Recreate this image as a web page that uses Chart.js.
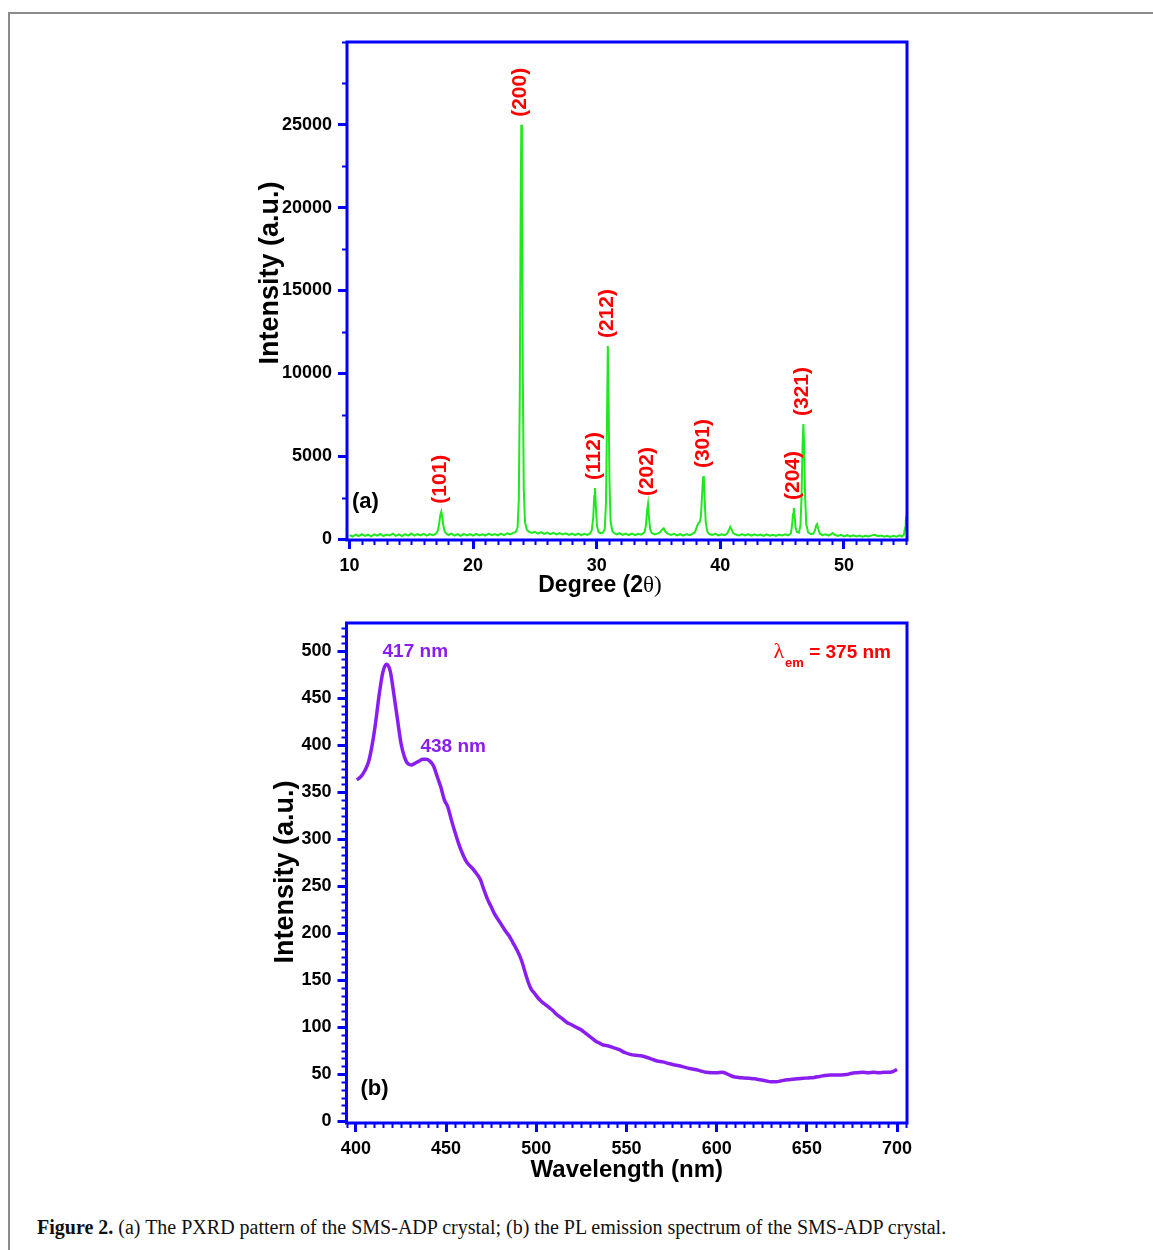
<!DOCTYPE html>
<html>
<head>
<meta charset="utf-8">
<script src="https://cdn.jsdelivr.net/npm/chart.js@4.4.1/dist/chart.umd.min.js"></script>
<style>
  html, body { margin: 0; padding: 0; background: #fff; }
  body { width: 1153px; height: 1250px; position: relative; overflow: hidden; }
  .frame { position: absolute; left: 8px; top: 12px; width: 1160px; height: 1250px;
           border-left: 2px solid #8c8c8c; border-top: 2px solid #8c8c8c; }
  #xrdChart { position: absolute; left: 0; top: 0; }
  #plChart { position: absolute; left: 0; top: 606px; }
  .caption { position: absolute; left: 37px; top: 1216px; font-family: "Liberation Serif", "Times New Roman", serif;
             font-size: 20px; color: #111; white-space: nowrap; }
</style>
</head>
<body>
<div class="frame"></div>
<canvas id="xrdChart" width="1153" height="606"></canvas>
<canvas id="plChart" width="1153" height="594"></canvas>
<div class="caption"><b>Figure 2.</b> (a) The PXRD pattern of the SMS-ADP crystal; (b) the PL emission spectrum of the SMS-ADP crystal.</div>
<script>
// (a) PXRD pattern
const xrdTheta = [
  10.0, 10.25, 10.5, 10.75, 11.0, 11.25, 11.5, 11.75, 12.0, 12.25, 12.5, 12.75, 13.0, 13.25, 13.5, 13.75,
  14.0, 14.25, 14.5, 14.75, 15.0, 15.25, 15.5, 15.75, 16.0, 16.25, 16.5, 16.75,
  17.0, 17.15, 17.25, 17.35, 17.43, 17.5, 17.6, 17.7, 17.85,
  18.0, 18.25, 18.5, 18.75, 19.0, 19.25, 19.5, 19.75, 20.0, 20.25, 20.5, 20.75, 21.0, 21.25, 21.5, 21.75,
  22.0, 22.25, 22.5, 22.75, 23.0, 23.25, 23.45,
  23.6, 23.7, 23.78, 23.85, 23.9, 23.95, 24.02, 24.1, 24.2, 24.35,
  24.5, 24.75, 25.0, 25.25, 25.5, 25.75, 26.0, 26.25, 26.5, 26.75, 27.0, 27.25, 27.5, 27.75, 28.0, 28.25,
  28.5, 28.75, 29.0, 29.25, 29.45,
  29.6, 29.72, 29.8, 29.86, 29.93, 30.02, 30.15, 30.3, 30.5, 30.65,
  30.75, 30.83, 30.9, 30.96, 31.03, 31.12, 31.25,
  31.4, 31.6, 31.85, 32.1, 32.35, 32.6, 32.85, 33.1, 33.35, 33.6, 33.85,
  33.98, 34.07, 34.15, 34.23, 34.32, 34.45,
  34.7, 34.95, 35.15, 35.3, 35.42, 35.55, 35.75, 36.0, 36.25, 36.5, 36.75, 37.0, 37.25, 37.5, 37.75, 37.95,
  38.1, 38.22, 38.32, 38.42, 38.52, 38.6, 38.66, 38.73, 38.82, 38.95,
  39.1, 39.35, 39.6, 39.85, 40.1, 40.35, 40.55, 40.7, 40.8, 40.9, 41.05, 41.25, 41.5, 41.75, 42.0, 42.25,
  42.5, 42.75, 43.0, 43.25, 43.5, 43.75, 44.0, 44.25, 44.5, 44.75, 45.0, 45.25, 45.5, 45.7,
  45.8, 45.88, 45.94, 46.0, 46.08, 46.2, 46.35, 46.48,
  46.57, 46.65, 46.72, 46.78, 46.86, 46.95, 47.1,
  47.3, 47.5, 47.65, 47.75, 47.83, 47.92, 48.05, 48.25, 48.5, 48.75, 48.95, 49.1, 49.25, 49.5, 49.75,
  50.0, 50.25, 50.5, 50.75, 51.0, 51.25, 51.5, 51.75, 52.0, 52.25, 52.5, 52.75, 53.0, 53.25, 53.5, 53.75,
  54.0, 54.25, 54.5, 54.7, 54.85, 54.95, 55.0, 55.05
];
const xrdCounts = [
  230, 150, 270, 180, 290, 190, 260, 160, 280, 200, 310, 180, 270, 210, 320, 190,
  280, 180, 300, 210, 330, 200, 290, 220, 310, 200, 300, 230,
  330, 520, 900, 1450, 1650, 1350, 800, 450, 320,
  240, 320, 210, 300, 190, 310, 220, 290, 200, 310, 220, 280, 210, 320, 230, 300,
  220, 330, 240, 340, 280, 370, 420,
  700, 2400, 9000, 20000, 25000, 21000, 10000, 3000, 1000, 560,
  450, 370, 430, 320, 410, 310, 390, 290, 370, 280, 360, 270, 340, 250, 330, 240,
  320, 230, 310, 250, 330,
  520, 1300, 2600, 3080, 2000, 800, 420, 350, 380, 600,
  2200, 7000, 11650, 8500, 3500, 1100, 500,
  360, 280, 350, 250, 330, 240, 320, 230, 310, 260, 380,
  800, 1700, 2110, 1300, 600, 360,
  280, 340, 420, 580, 650, 450, 320, 250, 310, 220, 290, 210, 300, 230, 310, 420,
  750, 950, 1000, 1300, 2600, 3700, 3800, 2400, 1000, 450,
  300, 250, 310, 220, 290, 230, 330, 550, 730, 580, 350, 270, 210, 300, 220, 290,
  200, 280, 210, 270, 190, 280, 200, 260, 190, 270, 210, 280, 220, 330,
  800, 1500, 1870, 1500, 700, 420, 380, 800,
  2600, 5600, 6940, 5500, 2500, 900, 400,
  300, 320, 500, 820, 900, 600, 330, 230, 290, 210, 300, 360, 250, 180, 250,
  160, 230, 150, 220, 160, 210, 140, 200, 150, 220, 250, 170, 210, 140, 200, 130,
  190, 140, 220, 150, 260, 700, 1100, 1400
];
const xrdTicksX = [10, 20, 30, 40, 50];
const xrdTicksY = [0, 5000, 10000, 15000, 20000, 25000];
const peakHkl = ['(101)', '(200)', '(112)', '(212)', '(202)', '(301)', '(204)', '(321)'];
const peakTheta = [17.43, 23.9, 29.86, 30.9, 34.15, 38.66, 45.94, 46.72];

// (b) PL emission spectrum
const plWavelength = [
  400.5, 403, 405, 407, 409, 411, 413, 415, 417, 419, 421, 423, 425, 427, 429, 431, 433, 435, 437, 439,
  441, 443, 445, 447, 449, 451, 453, 455, 457, 459, 461, 463, 465, 467, 469, 471, 473, 475, 477, 479,
  481, 483, 485, 487, 489, 491, 492.5, 494, 495.5, 497, 499, 501, 503, 505, 507, 509, 511, 513, 515, 517,
  519, 521, 523, 525, 527, 529, 531, 533, 535, 537, 540, 543, 546, 549, 552, 555, 558, 561, 564, 567,
  570, 573, 576, 579, 582, 585, 588, 591, 594, 597, 600, 603, 606, 609, 612, 615, 618, 621, 624, 627,
  630, 633, 636, 639, 642, 645, 648, 651, 654, 657, 660, 663, 666, 669, 672, 675, 678, 681, 684, 687,
  690, 693, 696, 698, 700
];
const plIntensity = [
  363, 367, 373, 382, 400, 425, 455, 478, 486, 479, 455, 428, 402, 387, 380, 379, 381, 383, 385, 385,
  383, 378, 367, 356, 342, 334, 320, 307, 295, 285, 277, 272, 268, 263, 257, 246, 236, 228, 220, 214,
  208, 202, 197, 190, 183, 175, 167, 157, 148, 141, 136, 131, 127, 124, 121, 118, 114, 111, 108, 105,
  103, 101, 99, 97, 94, 91, 88, 85, 83, 81, 80, 78, 76, 73, 71, 70, 69.5, 68, 66, 64,
  63, 61.5, 60, 59, 57.5, 56, 55, 53.5, 52, 51.5, 51.5, 52, 50, 47.5, 46.5, 46, 45.5, 45, 44, 43,
  42, 42, 43, 44, 44.5, 45, 45.5, 46, 46.5, 47.5, 48.5, 49, 49, 49, 49.5, 51, 51.5, 52, 51.5, 52,
  51.5, 52, 52, 53, 55
];
const plTicksX = [400, 450, 500, 550, 600, 650, 700];
const plTicksY = [0, 50, 100, 150, 200, 250, 300, 350, 400, 450, 500];
const plPeakNm = [417, 438];

const BLUE = '#0000ff';
const RED = '#ff0000';
const PURPLE = '#8a1ef0';
const SANS = '"Liberation Sans", Arial, sans-serif';
const SERIF = '"Liberation Serif", "Times New Roman", serif';

// blue box round the plot area plus the small minor ticks
const framePlugin = {
  id: 'frame',
  afterDraw(chart, args, opts) {
    const { ctx, chartArea: a, scales } = chart;
    ctx.save();
    ctx.strokeStyle = BLUE;
    ctx.lineWidth = 2;
    const minor = (scale, step, majors, horiz) => {
      for (let k = Math.ceil(scale.min / step); k * step <= scale.max + 1e-9; k++) {
        const v = k * step;
        if (majors.some(m => Math.abs(m - v) < step / 100)) continue;
        const p = Math.round(scale.getPixelForValue(v)) + 0.5;
        ctx.beginPath();
        if (horiz) { ctx.moveTo(p, a.bottom); ctx.lineTo(p, a.bottom + opts.len); }
        else { ctx.moveTo(a.left, p); ctx.lineTo(a.left - opts.len, p); }
        ctx.stroke();
      }
    };
    minor(scales.x, opts.stepX, opts.majorX, true);
    minor(scales.y, opts.stepY, opts.majorY, false);
    ctx.lineWidth = 3;
    ctx.strokeRect(a.left, a.top, a.right - a.left, a.bottom - a.top);
    ctx.restore();
  }
};

function axisOpts(min, max, ticks, size, fit) {
  return {
    type: 'linear',
    min: min,
    max: max,
    afterBuildTicks: s => { s.ticks = ticks.map(v => ({ value: v })); },
    afterFit: fit,
    border: { display: false },
    grid: { display: true, drawOnChartArea: false, drawTicks: true, tickLength: 9, tickWidth: 3, tickColor: BLUE },
    ticks: {
      autoSkip: false, maxRotation: 0, padding: 6, color: '#000',
      font: { family: SANS, size: size, weight: 'bold' },
      callback: v => String(v)
    }
  };
}

function yTitle(ctx, text, x, y, size) {
  ctx.save();
  ctx.translate(x, y);
  ctx.rotate(-Math.PI / 2);
  ctx.font = 'bold ' + size + 'px ' + SANS;
  ctx.fillStyle = '#000';
  ctx.textAlign = 'center';
  ctx.textBaseline = 'middle';
  ctx.fillText(text, 0, 0);
  ctx.restore();
}

// ---------- (a) XRD ----------
new Chart(document.getElementById('xrdChart'), {
  type: 'line',
  data: {
    datasets: [{
      data: xrdTheta.map((t, i) => ({ x: t, y: xrdCounts[i] })),
      borderColor: '#1fe81f',
      borderWidth: 2,
      pointRadius: 0,
      tension: 0
    }]
  },
  options: {
    responsive: false,
    animation: false,
    layout: { padding: { top: 42, right: 246, left: 0, bottom: 0 } },
    plugins: {
      legend: { display: false },
      tooltip: { enabled: false },
      frame: { stepX: 1, stepY: 2500, majorX: xrdTicksX, majorY: xrdTicksY, len: 5 }
    },
    scales: {
      x: axisOpts(9.8, 55.1, xrdTicksX, 18, s => { s.height = 66; }),
      y: axisOpts(-60, 30000, xrdTicksY, 18, s => { s.width = 347; })
    }
  },
  plugins: [framePlugin, {
    id: 'xrdText',
    afterDatasetsDraw(chart) {
      const { ctx, chartArea: a, scales: { x, y } } = chart;
      ctx.save();
      ctx.fillStyle = RED;
      ctx.font = 'bold 21px ' + SANS;
      ctx.textAlign = 'left';
      ctx.textBaseline = 'middle';
      peakHkl.forEach((hkl, i) => {
        let top = 0;
        xrdTheta.forEach((t, j) => { if (Math.abs(t - peakTheta[i]) < 0.2) top = Math.max(top, xrdCounts[j]); });
        ctx.save();
        ctx.translate(x.getPixelForValue(peakTheta[i]) - 2, y.getPixelForValue(top) - 8);
        ctx.rotate(-Math.PI / 2);
        ctx.fillText(hkl, 0, 1);
        ctx.restore();
      });
      ctx.fillStyle = '#000';
      ctx.font = 'bold 22px ' + SANS;
      ctx.textBaseline = 'alphabetic';
      ctx.fillText('(a)', a.left + 5, a.bottom - 32);

      // x title: "Degree (2" sans bold, "θ)" serif
      const mid = (a.left + a.right) / 2 - 27;
      const base = a.bottom + 52;
      ctx.font = 'bold 23px ' + SANS;
      const w1 = ctx.measureText('Degree (2').width;
      ctx.font = '23px ' + SERIF;
      const w2 = ctx.measureText('θ)').width;
      const sx = mid - (w1 + w2) / 2;
      ctx.font = 'bold 23px ' + SANS;
      ctx.fillText('Degree (2', sx, base);
      ctx.font = '23px ' + SERIF;
      ctx.fillText('θ)', sx + w1, base);
      ctx.restore();
      yTitle(ctx, 'Intensity (a.u.)', 271, (a.top + a.bottom) / 2 - 18, 27);
    }
  }]
});

// ---------- (b) PL ----------
new Chart(document.getElementById('plChart'), {
  type: 'line',
  data: {
    datasets: [{
      data: plWavelength.map((w, i) => ({ x: w, y: plIntensity[i] })),
      borderColor: PURPLE,
      borderWidth: 3.5,
      pointRadius: 0,
      cubicInterpolationMode: 'monotone'
    }]
  },
  options: {
    responsive: false,
    animation: false,
    layout: { padding: { top: 17, right: 246, left: 0, bottom: 0 } },
    plugins: {
      legend: { display: false },
      tooltip: { enabled: false },
      frame: { stepX: 5, stepY: 50 / 6, majorX: plTicksX, majorY: plTicksY, len: 5 }
    },
    scales: {
      x: axisOpts(394.8, 705.5, plTicksX, 18, s => { s.height = 77; }),
      y: axisOpts(-2, 530, plTicksY, 18, s => { s.width = 346.5; })
    }
  },
  plugins: [framePlugin, {
    id: 'plText',
    afterDatasetsDraw(chart) {
      const { ctx, chartArea: a, scales: { x, y } } = chart;
      ctx.save();
      ctx.fillStyle = PURPLE;
      ctx.font = 'bold 19px ' + SANS;
      ctx.textAlign = 'left';
      ctx.textBaseline = 'alphabetic';
      plPeakNm.forEach(nm => {
        const j = plWavelength.indexOf(nm) >= 0 ? plWavelength.indexOf(nm) : plWavelength.findIndex(w => w >= nm);
        ctx.fillText(nm + ' nm', x.getPixelForValue(nm) - 4, y.getPixelForValue(plIntensity[j]) - 7);
      });

      // excitation note, right aligned in the box
      const base = a.top + 35;
      ctx.fillStyle = RED;
      ctx.font = 'bold 19px ' + SANS;
      const wMain = ctx.measureText(' = 375 nm').width;
      ctx.font = 'bold 13px ' + SANS;
      const wSub = ctx.measureText('em').width;
      ctx.font = '22px ' + SERIF;
      const wL = ctx.measureText('λ').width;
      const sx = a.right - 17 - wMain - wSub - wL;
      ctx.fillText('λ', sx, base);
      ctx.font = 'bold 13px ' + SANS;
      ctx.fillText('em', sx + wL + 1, base + 9);
      ctx.font = 'bold 19px ' + SANS;
      ctx.fillText(' = 375 nm', sx + wL + wSub + 1, base);

      ctx.fillStyle = '#000';
      ctx.font = 'bold 22px ' + SANS;
      ctx.fillText('(b)', a.left + 14, a.bottom - 28);

      ctx.font = 'bold 24px ' + SANS;
      ctx.textAlign = 'center';
      ctx.fillText('Wavelength (nm)', (a.left + a.right) / 2, a.bottom + 54);
      ctx.restore();
      yTitle(ctx, 'Intensity (a.u.)', 286, (a.top + a.bottom) / 2 - 1, 27);
    }
  }]
});
</script>
</body>
</html>
